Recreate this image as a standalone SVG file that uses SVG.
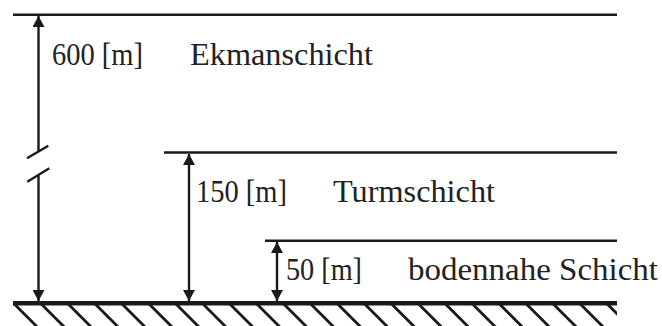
<svg xmlns="http://www.w3.org/2000/svg" width="662" height="326" viewBox="0 0 662 326">
  <defs>
    <style>
      .lvl { stroke: #1a1a1a; stroke-width: 2.5; fill: none; }
      .shaft { stroke: #1a1a1a; stroke-width: 2.4; fill: none; }
      .hatch { stroke: #1a1a1a; stroke-width: 2.8; fill: none; }
      .lbl { font-family: "Liberation Serif", "DejaVu Serif", serif; font-size: 32.5px; fill: #222; }
    </style>
    <marker id="ah" viewBox="0 0 11 12" refX="11" refY="6" markerWidth="11" markerHeight="12" markerUnits="userSpaceOnUse" orient="auto-start-reverse">
      <path d="M0,0 L11,6 L0,12 Z" fill="#1a1a1a"/>
    </marker>
    <clipPath id="gclip">
      <rect x="13" y="303" width="604" height="23"/>
    </clipPath>
  </defs>
  <rect width="662" height="326" fill="#fff"/>

  <g id="ground">
    <rect x="13" y="301" width="604" height="4.5" fill="#1a1a1a"/>
    <g clip-path="url(#gclip)">
      <path class="hatch" d="M13.3,303 l25,25 M40.3,303 l25,25 M67.2,303 l25,25 M94.2,303 l25,25 M121.1,303 l25,25 M148.1,303 l25,25 M175,303 l25,25 M202,303 l25,25 M228.9,303 l25,25 M255.9,303 l25,25 M282.8,303 l25,25 M309.8,303 l25,25 M336.7,303 l25,25 M363.7,303 l25,25 M390.6,303 l25,25 M417.6,303 l25,25 M444.5,303 l25,25 M471.5,303 l25,25 M498.4,303 l25,25 M525.4,303 l25,25 M552.3,303 l25,25 M579.3,303 l25,25 M606.2,303 l25,25"/>
    </g>
  </g>

  <g id="ekmanschicht">
    <line class="lvl" x1="13" y1="14.7" x2="617" y2="14.7"/>
    <text class="lbl" x="52" y="65" textLength="91" lengthAdjust="spacingAndGlyphs">600 [m]</text>
    <text class="lbl" x="190" y="65" textLength="183" lengthAdjust="spacingAndGlyphs">Ekmanschicht</text>
  </g>

  <g id="turmschicht">
    <line class="lvl" x1="164" y1="152.5" x2="617" y2="152.5"/>
    <text class="lbl" x="196" y="202" textLength="91" lengthAdjust="spacingAndGlyphs">150 [m]</text>
    <text class="lbl" x="333" y="202" textLength="162" lengthAdjust="spacingAndGlyphs">Turmschicht</text>
  </g>

  <g id="bodennahe-schicht">
    <line class="lvl" x1="265" y1="240.7" x2="617" y2="240.7"/>
    <text class="lbl" x="286" y="280" textLength="76" lengthAdjust="spacingAndGlyphs">50 [m]</text>
    <text class="lbl" x="408" y="280" textLength="250" lengthAdjust="spacingAndGlyphs">bodennahe Schicht</text>
  </g>

  <g id="connectors">
    <line class="shaft" x1="38.5" y1="152" x2="38.5" y2="16" marker-end="url(#ah)"/>
    <line class="shaft" x1="27" y1="158.3" x2="48.3" y2="145.7"/>
    <line class="shaft" x1="27.3" y1="181.7" x2="49.3" y2="168.3"/>
    <line class="shaft" x1="38.5" y1="175" x2="38.5" y2="301" marker-end="url(#ah)"/>
    <line class="shaft" x1="189" y1="154" x2="189" y2="301" marker-start="url(#ah)" marker-end="url(#ah)"/>
    <line class="shaft" x1="277" y1="242" x2="277" y2="301" marker-start="url(#ah)" marker-end="url(#ah)"/>
  </g>
</svg>
